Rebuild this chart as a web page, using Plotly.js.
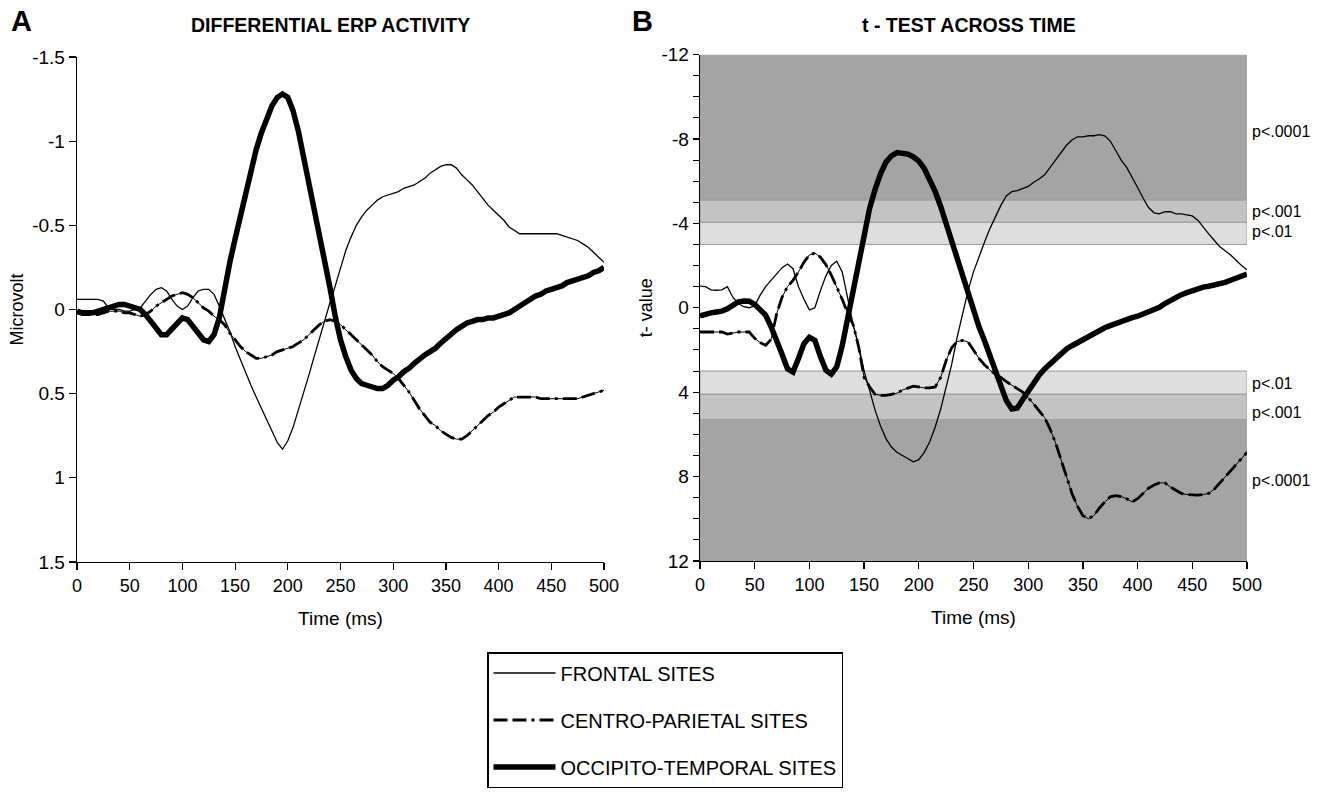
<!DOCTYPE html>
<html>
<head>
<meta charset="utf-8">
<script src="https://cdn.plot.ly/plotly-3.0.1.min.js"></script>
<style>html,body{margin:0;padding:0;background:#fff}#chart{width:1324px;height:794px}</style>
</head>
<body>
<div id="chart"></div>
<script>
// ---------- DATA ----------
const timeMs = [0,5,10,15,20,25,30,35,40,45,50,55,60,65,70,75,80,85,90,95,
  100,105,110,115,120,125,130,135,140,145,150,155,160,165,170,175,180,185,190,195,
  200,205,210,215,220,225,230,235,240,245,250,255,260,265,270,275,280,285,290,295,
  300,305,310,315,320,325,330,335,340,345,350,355,360,365,370,375,380,385,390,395,
  400,405,410,415,420,425,430,435,440,445,450,455,460,465,470,475,480,485,490,495,500];

// Panel A: differential ERP (microvolt)
const frontalERP = [-0.06,-0.06,-0.06,-0.06,-0.06,-0.05,-0.01,0.0,0.0,0.01,
  0.01,0.0,-0.01,-0.05,-0.09,-0.12,-0.13,-0.11,-0.06,-0.02,
  0.0,-0.02,-0.07,-0.11,-0.12,-0.12,-0.09,-0.02,0.05,0.13,
  0.22,0.3,0.38,0.45,0.52,0.59,0.66,0.73,0.79,0.83,
  0.78,0.7,0.6,0.5,0.39,0.28,0.17,0.06,-0.04,-0.14,
  -0.25,-0.35,-0.43,-0.5,-0.55,-0.59,-0.62,-0.65,-0.67,-0.68,
  -0.69,-0.7,-0.72,-0.73,-0.74,-0.76,-0.78,-0.81,-0.83,-0.85,
  -0.86,-0.86,-0.84,-0.8,-0.77,-0.74,-0.7,-0.66,-0.62,-0.59,
  -0.56,-0.53,-0.49,-0.47,-0.45,-0.45,-0.45,-0.45,-0.45,-0.45,
  -0.45,-0.45,-0.44,-0.43,-0.42,-0.41,-0.39,-0.37,-0.34,-0.31,-0.28];
const centroERP = [0.02,0.03,0.03,0.03,0.03,0.02,0.01,0.01,0.01,0.02,
  0.02,0.03,0.04,0.03,0.01,-0.02,-0.04,-0.06,-0.08,-0.09,
  -0.1,-0.09,-0.07,-0.04,-0.01,0.01,0.04,0.06,0.09,0.14,
  0.18,0.22,0.25,0.27,0.29,0.29,0.28,0.27,0.25,0.24,
  0.23,0.22,0.2,0.18,0.15,0.12,0.09,0.07,0.06,0.07,
  0.09,0.12,0.15,0.18,0.21,0.24,0.27,0.31,0.34,0.36,
  0.38,0.41,0.45,0.49,0.54,0.59,0.63,0.67,0.69,0.72,
  0.74,0.76,0.77,0.77,0.75,0.72,0.69,0.66,0.63,0.61,
  0.58,0.56,0.54,0.52,0.52,0.52,0.52,0.52,0.53,0.53,
  0.53,0.53,0.53,0.53,0.53,0.53,0.52,0.51,0.5,0.49,0.48];
const occipitoERP = [0.01,0.02,0.02,0.02,0.01,0.0,-0.01,-0.02,-0.03,-0.03,
  -0.02,-0.01,0.0,0.03,0.07,0.11,0.15,0.15,0.12,0.08,
  0.05,0.06,0.1,0.15,0.18,0.19,0.15,0.05,-0.13,-0.28,
  -0.42,-0.56,-0.7,-0.83,-0.95,-1.05,-1.14,-1.21,-1.26,-1.28,
  -1.26,-1.18,-1.06,-0.91,-0.76,-0.6,-0.45,-0.3,-0.13,0.04,
  0.18,0.28,0.36,0.41,0.44,0.45,0.46,0.47,0.47,0.45,
  0.42,0.4,0.37,0.35,0.32,0.29,0.27,0.25,0.23,0.2,
  0.17,0.15,0.12,0.1,0.08,0.07,0.06,0.06,0.05,0.05,
  0.04,0.03,0.02,0.0,-0.02,-0.04,-0.06,-0.08,-0.09,-0.11,
  -0.12,-0.13,-0.14,-0.16,-0.17,-0.18,-0.19,-0.2,-0.22,-0.23,-0.25];

// Panel B: t-values
const frontalT = [-1.02,-1.0,-0.85,-0.83,-0.85,-1.0,-0.5,-0.2,-0.05,0.0,
  -0.1,-0.6,-1.0,-1.3,-1.6,-1.9,-2.07,-1.85,-1.0,-0.4,
  0.1,0.0,-0.8,-1.5,-2.0,-2.2,-1.7,-0.5,0.8,1.8,
  3.0,3.9,4.85,5.6,6.2,6.6,6.85,7.0,7.15,7.3,
  7.2,6.85,6.35,5.65,4.8,3.8,2.7,1.4,0.3,-0.8,
  -1.7,-2.45,-3.1,-3.75,-4.3,-4.85,-5.3,-5.5,-5.55,-5.65,
  -5.75,-5.95,-6.1,-6.3,-6.65,-7.05,-7.4,-7.7,-7.95,-8.1,
  -8.1,-8.15,-8.15,-8.2,-8.15,-7.9,-7.45,-7.0,-6.65,-6.2,
  -5.7,-5.2,-4.75,-4.5,-4.45,-4.55,-4.55,-4.45,-4.45,-4.4,
  -4.35,-4.15,-3.8,-3.5,-3.2,-2.9,-2.7,-2.5,-2.25,-2.0,-1.8];
const centroT = [1.15,1.15,1.15,1.15,1.15,1.25,1.2,1.15,1.15,1.15,
  1.45,1.65,1.78,1.5,0.3,-0.5,-1.0,-1.3,-1.7,-2.15,
  -2.5,-2.59,-2.4,-2.05,-1.55,-1.0,-0.4,0.25,0.8,1.85,
  3.3,3.75,4.1,4.15,4.15,4.1,4.05,3.9,3.8,3.72,
  3.75,3.8,3.8,3.75,3.3,2.5,1.9,1.6,1.55,1.62,
  2.0,2.4,2.7,2.95,3.15,3.3,3.5,3.67,3.85,4.0,
  4.25,4.55,4.85,5.2,5.75,6.4,7.2,8.0,8.8,9.4,
  9.85,10.0,9.85,9.5,9.2,8.96,8.9,8.95,9.05,9.2,
  9.05,8.8,8.55,8.4,8.3,8.3,8.5,8.65,8.8,8.85,
  8.88,8.88,8.85,8.8,8.6,8.3,8.05,7.75,7.45,7.15,6.85];
const occipitoT = [0.39,0.3,0.24,0.2,0.16,0.05,-0.1,-0.28,-0.32,-0.31,
  -0.16,0.1,0.35,0.9,1.5,2.2,2.9,3.05,2.4,1.7,
  1.4,1.55,2.3,2.95,3.15,2.8,1.8,0.5,-1.0,-2.2,
  -3.7,-4.7,-5.6,-6.35,-6.9,-7.2,-7.35,-7.32,-7.28,-7.15,
  -6.95,-6.6,-6.1,-5.5,-4.8,-4.0,-3.2,-2.4,-1.6,-0.6,
  0.2,0.9,1.55,2.25,3.0,3.75,4.4,4.8,4.75,4.35,
  3.95,3.55,3.2,2.9,2.65,2.4,2.15,1.95,1.8,1.65,
  1.5,1.35,1.2,1.1,0.95,0.85,0.75,0.62,0.55,0.47,
  0.4,0.3,0.2,0.1,-0.02,-0.2,-0.35,-0.5,-0.62,-0.72,
  -0.82,-0.9,-0.98,-1.02,-1.07,-1.12,-1.2,-1.3,-1.4,-1.5,-1.6];

const seriesNames = ['FRONTAL SITES','CENTRO-PARIETAL SITES','OCCIPITO-TEMPORAL SITES'];
const timeTicks = [0,50,100,150,200,250,300,350,400,450,500];
const timeTickText = ['0','50','100','150','200','250','300','350','400','450','500'];
const voltTicks = [-1.5,-1,-0.5,0,0.5,1,1.5];
const voltTickText = ['-1.5','-1','-0.5','0','0.5','1','1.5'];
const tTicks = [-12,-8,-4,0,4,8,12];
const tTickText = ['-12','-8','-4','0','4','8','12'];
// significance thresholds (t) bounding the shaded bands
const bandEdges = [-12,-5.1,-4.05,-3,3,4.1,5.3,12];
const pLabels = ['p<.0001','p<.001','p<.01','p<.01','p<.001','p<.0001'];
const pLabelT = [-8.35,-4.58,-3.59,3.57,4.94,8.17];

// ---------- STYLES ----------
const FONT = 'Liberation Sans, Arial, Helvetica, sans-serif';
const BLACK = '#000000';
const DARK = '#a4a4a4', MID = '#c3c3c3', LIGHT = '#dedede', EDGE = '#999999';
const centroDash = '14px,5px,14px,5px,3px,5px';

function trace(x, y, xa, ya, name, line, show, group) {
  return {type:'scatter', mode:'lines', x:x, y:y, xaxis:xa, yaxis:ya, name:name,
    line:line, showlegend:show, legendgroup:group, hoverinfo:'skip'};
}

const data = [
  trace(timeMs, frontalERP, 'x', 'y', seriesNames[0], {color:BLACK, width:1.3}, true, 'f'),
  trace(timeMs, centroERP, 'x', 'y', seriesNames[1], {color:BLACK, width:2.8, dash:centroDash}, true, 'c'),
  trace(timeMs, centroERP, 'x', 'y', seriesNames[1], {color:BLACK, width:1}, false, 'c'),
  trace(timeMs, occipitoERP, 'x', 'y', seriesNames[2], {color:BLACK, width:5.5}, true, 'o'),
  trace(timeMs, frontalT, 'x2', 'y2', seriesNames[0], {color:BLACK, width:1.3}, false, 'f'),
  trace(timeMs, centroT, 'x2', 'y2', seriesNames[1], {color:BLACK, width:2.8, dash:centroDash}, false, 'c'),
  trace(timeMs, centroT, 'x2', 'y2', seriesNames[1], {color:BLACK, width:1}, false, 'c'),
  trace(timeMs, occipitoT, 'x2', 'y2', seriesNames[2], {color:BLACK, width:5.5}, false, 'o')
];

const bandFill = [DARK, MID, LIGHT, null, LIGHT, MID, DARK];
const shapes = [];
for (let i = 0; i < bandEdges.length - 1; i++) {
  if (!bandFill[i]) continue;
  const bordered = bandFill[i] !== DARK;
  shapes.push({type:'rect', xref:'x2', yref:'y2', layer:'below',
    x0:timeTicks[0], x1:timeTicks[timeTicks.length-1], y0:bandEdges[i], y1:bandEdges[i+1],
    fillcolor:bandFill[i], line:{color:EDGE, width: bordered ? 1 : 0}});
}

const annotations = [
  {text:'<b>A</b>', xref:'paper', yref:'paper', x:21/1324, y:1-21/794, xanchor:'center', yanchor:'middle',
   showarrow:false, font:{family:FONT, size:29, color:BLACK}},
  {text:'<b>B</b>', xref:'paper', yref:'paper', x:642/1324, y:1-21/794, xanchor:'center', yanchor:'middle',
   showarrow:false, font:{family:FONT, size:29, color:BLACK}},
  {text:'<b>DIFFERENTIAL ERP ACTIVITY</b>', xref:'paper', yref:'paper', x:330/1324, y:1-25/794,
   xanchor:'center', yanchor:'middle', showarrow:false, font:{family:FONT, size:19.5, color:BLACK}},
  {text:'<b>t - TEST ACROSS TIME</b>', xref:'paper', yref:'paper', x:969/1324, y:1-25/794,
   xanchor:'center', yanchor:'middle', showarrow:false, font:{family:FONT, size:19.5, color:BLACK}}
];
for (let i = 0; i < pLabels.length; i++) {
  annotations.push({text:pLabels[i], xref:'paper', yref:'y2', x:1250/1324, y:pLabelT[i],
    xanchor:'left', yanchor:'middle', showarrow:false, font:{family:FONT, size:16, color:BLACK}});
}

const xCommon = {range:[0,500], tickmode:'array', tickvals:timeTicks, ticktext:timeTickText,
  ticks:'outside', ticklen:7, tickwidth:1.2, tickcolor:BLACK, showline:true, linecolor:BLACK, linewidth:1.3,
  showgrid:false, zeroline:false, tickfont:{family:FONT, size:18, color:BLACK}, fixedrange:true};

const layout = {
  width:1324, height:794, margin:{l:0, r:0, t:0, b:0},
  paper_bgcolor:'#ffffff', plot_bgcolor:'#ffffff',
  font:{family:FONT, color:BLACK},
  showlegend:true,
  xaxis: Object.assign({}, xCommon, {domain:[77/1324, 604/1324], anchor:'y',
    title:{text:'Time (ms)', font:{family:FONT, size:19, color:BLACK}, standoff:16}}),
  yaxis: {domain:[1-562/794, 1-57/794], anchor:'x', range:[1.5,-1.5], tickmode:'array',
    tickvals:voltTicks, ticktext:voltTickText, ticks:'outside', ticklen:7, tickwidth:1.2, tickcolor:BLACK,
    showline:true, linecolor:BLACK, linewidth:1.3, showgrid:false, zeroline:false,
    tickfont:{family:FONT, size:19, color:BLACK}, fixedrange:true,
    title:{text:'Microvolt', font:{family:FONT, size:18, color:BLACK}, standoff:4}},
  xaxis2: Object.assign({}, xCommon, {domain:[700/1324, 1247/1324], anchor:'y2',
    title:{text:'Time (ms)', font:{family:FONT, size:19, color:BLACK}, standoff:16}}),
  yaxis2: {domain:[1-561/794, 1-54.5/794], anchor:'x2', range:[12,-12], tickmode:'array',
    tickvals:tTicks, ticktext:tTickText, ticks:'outside', ticklen:6, tickwidth:1.2, tickcolor:BLACK,
    minor:{tickmode:'linear', tick0:0, dtick:1, ticks:'outside', ticklen:6, tickwidth:1, tickcolor:BLACK, showgrid:false},
    showline:true, linecolor:BLACK, linewidth:1.3, showgrid:false, zeroline:false,
    tickfont:{family:FONT, size:19, color:BLACK}, fixedrange:true,
    title:{text:'t- value', font:{family:FONT, size:18, color:BLACK}, standoff:4}},
  legend:{x:487/1324, y:1-652/794, xanchor:'left', yanchor:'top', bgcolor:'#ffffff',
    bordercolor:BLACK, borderwidth:1.5, font:{family:FONT, size:20, color:BLACK},
    itemwidth:62, tracegroupgap:18, traceorder:'grouped', itemclick:false, itemdoubleclick:false},
  shapes:shapes,
  annotations:annotations
};

Plotly.newPlot('chart', data, layout, {displayModeBar:false, staticPlot:true});
</script>
</body>
</html>
